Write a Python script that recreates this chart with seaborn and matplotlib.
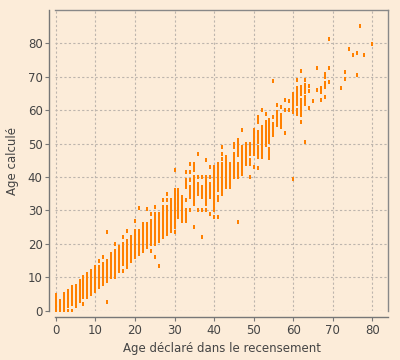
import matplotlib
matplotlib.use("Agg")
import matplotlib.pyplot as plt
import seaborn as sns
import pandas as pd

# declared age (census) and the ages calculated for people with that declared age
declared_ages = list(range(0, 70)) + [72, 73, 74, 75, 76, 77, 78, 80]
calc_ages = [
    [0, 0.5, 1, 1.5, 2, 3, 4, 4.8],
    [0, 0.5, 1, 2, 3],
    [0, 1, 2, 3, 4, 5],
    [0, 1.3, 2, 3, 4, 5, 6],
    [0, 2, 3, 4, 5, 6, 7],
    [1.5, 2.5, 3.5, 4.5, 5.5, 6.5, 7.5],
    [3, 4, 5, 6, 7, 8, 9],
    [2, 4, 5, 6, 7, 8, 9, 10],
    [4, 5, 6, 7, 8, 9, 10, 11],
    [5, 6, 7, 8, 9, 10, 11, 12],
    [6, 7, 8, 9, 10, 11, 12, 13],
    [7, 8, 9, 10, 11, 12, 13, 15],
    [8, 9, 10, 11, 12, 13, 14, 16],
    [2.5, 9, 10, 11, 12, 13, 14, 15, 23.5],
    [10, 11, 12, 13, 14, 15, 16, 17],
    [10, 11, 12, 13, 14, 15, 16, 17, 18, 20],
    [12, 13, 14, 15, 16, 17, 18, 19],
    [12, 14, 15, 16, 17, 18, 19, 20, 22],
    [13, 14, 15, 16, 17, 18, 19, 20, 21, 24],
    [15, 16, 17, 18, 19, 20, 21, 22],
    [16, 17, 18, 19, 20, 21, 22, 23, 24, 27],
    [17, 18, 19, 20, 21, 22, 23, 24, 30.6],
    [18, 19, 20, 21, 22, 23, 24, 25, 26],
    [19, 20, 21, 22, 23, 24, 25, 26, 30.4],
    [18, 20, 21, 22, 23, 24, 25, 26, 27, 29],
    [16, 20, 21, 22, 23, 24, 25, 26, 27, 28, 29, 31],
    [13.5, 21, 22, 23, 24, 25, 26, 27, 28, 29],
    [22, 23, 24, 25, 26, 27, 28, 29, 30, 31, 33],
    [23, 24, 25, 26, 27, 28, 29, 30, 31, 33, 35],
    [24, 25, 26, 27, 28, 29, 30, 31, 32, 33],
    [23.5, 25, 26, 27, 28, 29, 30, 31, 32, 33, 34, 35, 36, 42],
    [28, 29, 30, 31, 32, 33, 34, 35, 36],
    [27, 28, 29, 30, 31, 32, 33, 34],
    [27, 28, 29, 30, 33, 37, 38, 39, 41.5],
    [30, 34, 35, 36, 37, 39, 41.5, 44],
    [25, 32, 33, 34, 35, 36, 37, 38, 39, 40, 42, 43, 44],
    [30, 35, 36, 37, 38, 40, 47],
    [22, 30, 34, 35, 36, 37, 40],
    [30, 32, 33, 34, 35, 36, 37, 38, 39, 40, 45],
    [29, 34, 35, 36, 37, 38, 40, 43],
    [28, 30, 31, 32, 33, 34, 35, 36, 37, 38, 39, 40, 41, 42, 43],
    [28, 33, 34, 36, 37, 38, 39, 40, 41, 42, 43, 44],
    [35, 36, 37, 38, 39, 40, 41, 42, 43, 44, 45.5, 47, 49],
    [37, 38, 39, 40, 41, 42, 43, 44, 45, 46],
    [37, 38, 39, 40, 41, 42, 43, 44],
    [40, 41, 42, 43, 44, 45, 46, 47, 49, 50],
    [26.5, 40, 41, 42, 43, 44, 46.5, 47, 48, 49, 50, 51],
    [41, 42, 43, 44, 45, 46, 47, 48, 49, 54],
    [44, 45, 46, 47, 48, 49, 50],
    [40, 44, 45, 47, 48, 49, 50],
    [43, 47, 48, 49, 50, 51, 52, 53, 54],
    [42.8, 46, 47, 48, 49, 50.5, 51.5, 52.5, 53.5, 56.5, 57.5, 58],
    [46, 47, 48, 49, 50, 51, 52, 53, 54, 55, 60.2],
    [49.5, 50.5, 51.5, 52.5, 53.5, 54.5, 55.5, 56.5, 59],
    [45.6, 46.5, 47.5, 48.5, 50.5, 51.5, 52.5, 53.5, 54.5, 55.5, 56.5, 57],
    [52.5, 53.5, 54.5, 55.5, 56, 58, 68.9],
    [55.5, 56.5, 57.5, 58.5, 59.5, 61.7],
    [55, 56, 57, 58, 58.5, 61],
    [53.3, 60.2, 63],
    [60, 62.8],
    [39.3, 59.6, 60.5, 61.5, 62.5, 63.2, 64, 65],
    [58.9, 60, 61.9, 62.8, 63.7, 64.6, 65.5, 66.8, 69],
    [56.5, 58.5, 59.5, 60.5, 61.5, 62.5, 63, 65, 66, 67, 71.8],
    [50.6, 62, 63, 64, 65.4, 66.5, 67.5, 69],
    [60.7, 65.8, 67.3],
    [62.8],
    [66, 72.7],
    [63, 65.6, 66.8],
    [63.9, 67, 68.1, 70, 71],
    [68.6, 72.7, 81.4],
    [66.8],
    [69.5, 71.5],
    [78.4],
    [76.6],
    [70.6, 77.2],
    [85.3],
    [76.6],
    [79.9],
]

rows = [(a, c) for a, cs in zip(declared_ages, calc_ages) for c in cs]
df = pd.DataFrame(rows, columns=["declared", "calculated"])

bg = "#fcecd9"
sns.set_theme(style="white")
plt.rcParams["font.family"] = ["DejaVu Sans"]

fig = plt.figure(figsize=(4, 3.6), dpi=100, facecolor=bg)
ax = fig.add_axes([0.1375, 0.136, 0.833, 0.836])
ax.set_facecolor(bg)

# slightly narrow rectangles so the columns stay apart like in the original
rect = [(-0.76, -1), (0.76, -1), (0.76, 1), (-0.76, 1), (-0.76, -1)]
sns.scatterplot(data=df, x="declared", y="calculated", ax=ax, marker=rect,
                s=8, color="#ff8000", linewidth=0, zorder=3)

ax.set_xlim(-0.2, 84)
ax.set_ylim(-0.1, 90)
ax.set_xticks(range(0, 81, 10))
ax.set_yticks(range(0, 81, 10))
ax.grid(True, color="#bdb5ad", linestyle=(0, (2, 2)), linewidth=0.8, zorder=0)

for side in ["top", "right"]:
    ax.spines[side].set_color("#888888")
    ax.spines[side].set_linewidth(1)
for side in ["left", "bottom"]:
    ax.spines[side].set_position(("outward", 4))
    ax.spines[side].set_color("#777777")
    ax.spines[side].set_linewidth(1)

ax.tick_params(axis="both", direction="out", length=3, width=0.8, color="#777777",
               labelsize=8.5, labelcolor="#444444", pad=2, left=True, bottom=True)
ax.set_xlabel("Age déclaré dans le recensement", fontsize=8.5, color="#444444", labelpad=4)
ax.set_ylabel("Age calculé", fontsize=8.5, color="#444444", labelpad=6)

fig.savefig("out.png", dpi=100, facecolor=bg)
